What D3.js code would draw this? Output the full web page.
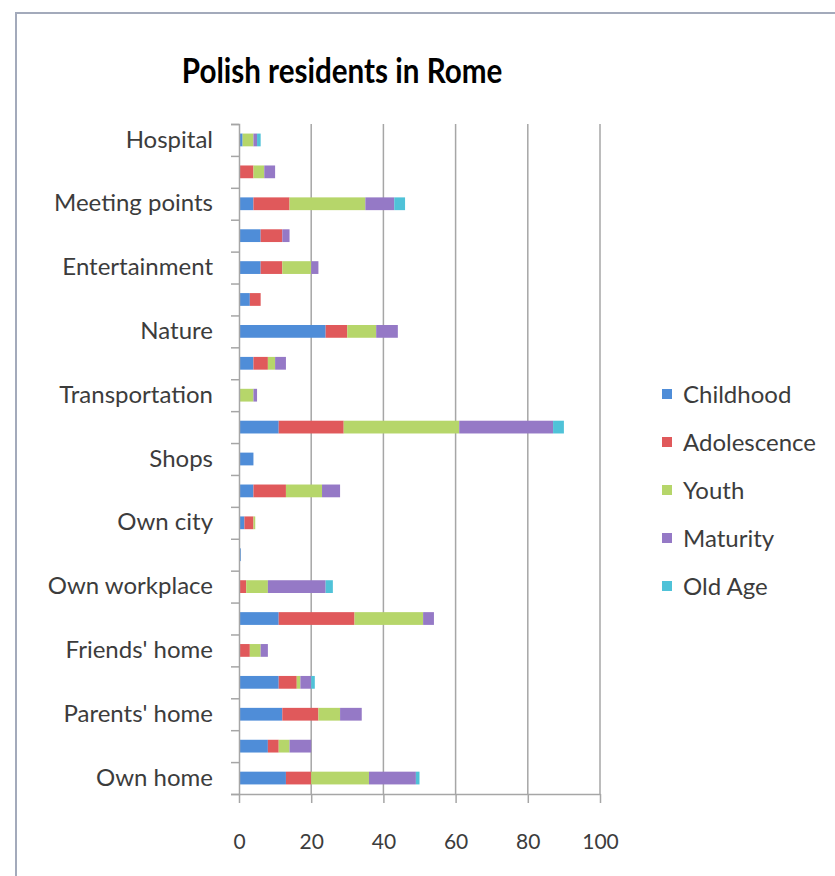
<!DOCTYPE html>
<html>
<head>
<meta charset="utf-8">
<script src="https://cdn.jsdelivr.net/npm/d3@7"></script>
<style>
  body { margin: 0; background: #fff; }
  svg { display: block; }
  text { font-family: Lato, "Open Sans", sans-serif; }
</style>
</head>
<body>
<svg id="chart" width="835" height="876"></svg>
<script>
// Places, listed from the bottom of the chart to the top
const categories = [
  "Own home", "Relatives' home", "Parents' home", "Neighbours' home", "Friends' home",
  "Workplace", "Own workplace", "Own school", "Own city", "Own country",
  "Shops", "Streets", "Transportation", "Squares", "Nature",
  "Sports", "Entertainment", "Culture", "Meeting points", "Church", "Hospital"
];

// Mentions per life stage, same order as categories
const childhood   = [13, 8, 12, 11, 0, 11, 0, 0.5, 1.5, 4, 4, 11, 0, 4, 24, 3, 6, 6, 4, 0, 1];
const adolescence = [7, 3, 10, 5, 3, 21, 2, 0, 2.5, 9, 0, 18, 0, 4, 6, 3, 6, 6, 10, 4, 0];
const youth       = [16, 3, 6, 1, 3, 19, 6, 0, 0.5, 10, 0, 32, 4, 2, 8, 0, 8, 0, 21, 3, 3];
const maturity    = [13, 6, 6, 3, 2, 3, 16, 0, 0, 5, 0, 26, 1, 3, 6, 0, 2, 2, 8, 3, 1];
const oldAge      = [1, 0, 0, 1, 0, 0, 2, 0, 0, 0, 0, 3, 0, 0, 0, 0, 0, 0, 3, 0, 1];

const seriesNames  = ["Childhood", "Adolescence", "Youth", "Maturity", "Old Age"];
const seriesValues = [childhood, adolescence, youth, maturity, oldAge];
const seriesColors = ["#4f8dd8", "#e0595b", "#b6d66a", "#9579c6", "#4fc2d8"];

const xTicks = [0, 20, 40, 60, 80, 100];

// Build row objects for d3.stack
const rows = categories.map((c, i) => {
  const r = { category: c };
  seriesNames.forEach((s, k) => { r[s] = seriesValues[k][i]; });
  return r;
});
const stacked = d3.stack().keys(seriesNames)(rows);

const svg = d3.select("#chart");
const labelColor = "#3c3c3c";

// Chart frame
svg.append("path")
  .attr("d", "M16,876V13H835")
  .attr("fill", "none")
  .attr("stroke", "#a3aabb")
  .attr("stroke-width", 2);

// Title (slightly condensed)
svg.append("text")
  .attr("transform", "translate(342,83) scale(0.87,1)")
  .attr("text-anchor", "middle")
  .attr("font-size", 34)
  .attr("font-weight", "bold")
  .attr("fill", "#000")
  .text("Polish residents in Rome");

const plotTop = 124, plotBottom = 794;
const x = d3.scaleLinear().domain([0, 100]).range([239, 600]);
const y = d3.scaleBand().domain(categories).range([plotBottom, plotTop])
  .paddingInner(0.6).paddingOuter(0.3);

// Vertical gridlines
svg.append("g")
  .selectAll("line")
  .data(xTicks.filter(t => t > 0))
  .join("line")
  .attr("x1", d => x(d)).attr("x2", d => x(d))
  .attr("y1", plotTop).attr("y2", plotBottom)
  .attr("stroke", "#a6a6a6")
  .attr("stroke-width", 1.5);

// Stacked bars
svg.append("g")
  .selectAll("g")
  .data(stacked)
  .join("g")
  .attr("fill", (d, i) => seriesColors[i])
  .selectAll("rect")
  .data(d => d)
  .join("rect")
  .attr("x", d => x(d[0]))
  .attr("width", d => x(d[1]) - x(d[0]))
  .attr("y", d => y(d.data.category))
  .attr("height", y.bandwidth());

// Category boundaries for the y-axis tick marks
const yEdges = d3.scaleLinear().domain([0, categories.length]).range([plotBottom, plotTop]);
const yTickAxis = svg.append("g")
  .attr("transform", "translate(239,0)")
  .call(d3.axisLeft(yEdges).tickValues(d3.range(categories.length + 1)).tickSize(8).tickFormat(""));
yTickAxis.selectAll("line, path").attr("stroke", "#a6a6a6").attr("stroke-width", 1.5);

// Category labels (every other one is shown)
const yLabelAxis = svg.append("g")
  .attr("transform", "translate(239,0)")
  .call(d3.axisLeft(y).tickSize(0).tickPadding(26)
    .tickFormat((d, i) => i % 2 === 0 ? d : ""));
yLabelAxis.select(".domain").remove();
yLabelAxis.selectAll("text")
  .attr("font-family", "Lato, sans-serif")
  .attr("font-size", 24)
  .attr("fill", labelColor);

// Value axis
const xAxis = svg.append("g")
  .attr("transform", `translate(0,${plotBottom})`)
  .call(d3.axisBottom(x).tickValues(xTicks).tickSize(9).tickPadding(31).tickSizeOuter(0));
xAxis.selectAll("line, path").attr("stroke", "#a6a6a6").attr("stroke-width", 1.5);
xAxis.selectAll("text")
  .attr("font-family", "Lato, sans-serif")
  .attr("font-size", 21)
  .attr("fill", labelColor);

// Legend
const legend = svg.append("g")
  .selectAll("g")
  .data(seriesNames)
  .join("g")
  .attr("transform", (d, i) => `translate(662,${395 + i * 48})`);
legend.append("rect")
  .attr("x", 0).attr("y", -6)
  .attr("width", 10).attr("height", 10)
  .attr("fill", (d, i) => seriesColors[i]);
legend.append("text")
  .attr("x", 21).attr("y", 0)
  .attr("dy", "0.35em")
  .attr("font-size", 24)
  .attr("fill", labelColor)
  .text(d => d);
</script>
</body>
</html>
